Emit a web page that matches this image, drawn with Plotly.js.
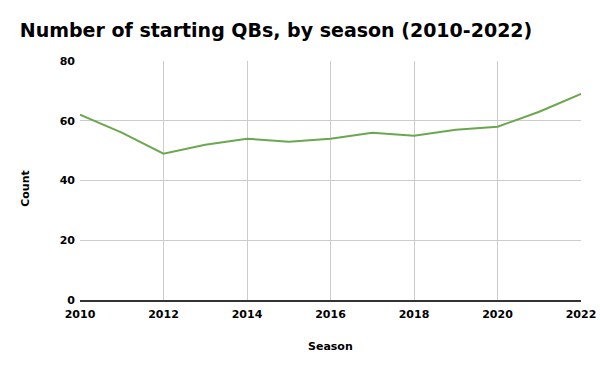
<!DOCTYPE html>
<html><head><meta charset="utf-8">
<script src="https://cdn.plot.ly/plotly-3.0.1.min.js"></script>
<style>html,body{margin:0;padding:0;background:#fff}#c{width:600px;height:371px}</style>
</head><body><div id="c"></div>
<script>
const seasons = [2010,2011,2012,2013,2014,2015,2016,2017,2018,2019,2020,2021,2022];
const counts = [62,56,49,52,54,53,54,56,55,57,58,63,69];
const xTicks = [2010,2012,2014,2016,2018,2020,2022];
const yTicks = [0,20,40,60,80];

const F = 'DejaVu Sans, Liberation Sans, Arial, sans-serif';
Plotly.newPlot('c', [{
  x: seasons, y: counts, type: 'scatter', mode: 'lines',
  line: {color: '#6aa84f', width: 2}, hoverinfo: 'x+y'
}], {
  width: 600, height: 371,
  margin: {l: 80, r: 19, t: 61, b: 71},
  paper_bgcolor: '#fff', plot_bgcolor: '#fff',
  font: {family: F, color: '#000'},
  title: {text: '<b>Number of starting QBs, by season (2010-2022)</b>', x: 0.033, xanchor: 'left', y: 0.918, yanchor: 'middle',
    font: {size: 19, color: '#000', family: F}},
  showlegend: false,
  xaxis: {
    range: [2010, 2022], tickvals: xTicks, ticktext: xTicks.map(v => '<b>' + v + '</b>'),
    showgrid: true, gridcolor: '#cccccc', gridwidth: 1,
    showline: true, linecolor: '#333', linewidth: 1.5,
    zeroline: false, ticks: '', tickfont: {size: 11, color: '#000', family: F},
    ticklabelstandoff: 3
  },
  yaxis: {
    range: [0, 80], tickvals: yTicks, ticktext: yTicks.map(v => '<b>' + v + '</b>'),
    showgrid: true, gridcolor: '#cccccc', gridwidth: 1,
    zeroline: false, showline: false, ticks: '', tickfont: {size: 11, color: '#000', family: F},
    ticklabelstandoff: 4
  },
  annotations: [
    {text: '<b>Season</b>', xref: 'paper', yref: 'paper', x: 0.5, y: -0.193, xanchor: 'center', yanchor: 'middle',
      showarrow: false, font: {size: 11, color: '#000', family: F}},
    {text: '<b>Count</b>', xref: 'paper', yref: 'paper', x: -0.108, y: 0.469, xanchor: 'center', yanchor: 'middle',
      textangle: -90, showarrow: false, font: {size: 11, color: '#000', family: F}}
  ]
}, {displayModeBar: false, staticPlot: true});
</script></body></html>
